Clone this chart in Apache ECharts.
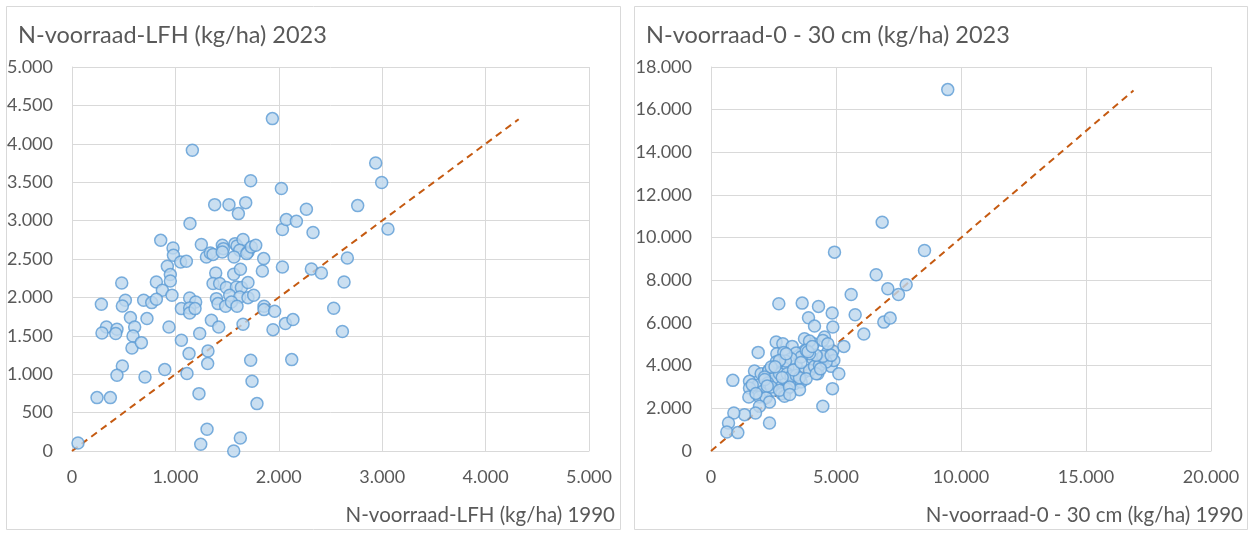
<!DOCTYPE html>
<html>
<head>
<meta charset="utf-8">
<script src="https://cdn.jsdelivr.net/npm/echarts@6/dist/echarts.min.js"></script>
<style>
html,body{margin:0;padding:0;background:#fff;}
#chart{width:1254px;height:533px;}
</style>
</head>
<body>
<div id="chart"></div>
<script>
// ---- Left panel: N-voorraad LFH (kg/ha), 1990 vs 2023 ----
const lfh1990 = [1938,1164,1728,2025,1380,1518,1680,1609,1141,858,977,981,1051,1106,922,951,951,816,481,874,967,516,284,487,693,771,816,1138,1196,1058,1138,1138,1190,565,725,333,435,290,423,606,590,580,671,938,1058,1235,1132,1315,1312,897,1112,487,435,706,1728,2125,1741,1251,1300,1338,1364,1454,1464,1454,1577,1596,1654,1622,1567,1702,1690,1735,1777,1854,1841,1390,1564,1629,1364,1428,1493,1590,1638,1702,1525,1622,1702,1757,1397,1412,1486,1542,1596,1348,1419,1654,1857,1857,1960,1944,2064,2137,2035,2035,2073,2170,2267,2331,2315,2412,2937,2995,2763,3056,2663,2631,2531,2615,58,242,371,1228,1306,1245,1564,1628,1789];
const lfh2023 = [4328,3915,3520,3417,3208,3208,3234,3091,2961,2743,2643,2548,2461,2470,2405,2297,2214,2201,2188,2092,2027,1962,1910,1888,1962,1932,1975,1992,1940,1854,1862,1797,1854,1737,1724,1615,1585,1537,1529,1615,1497,1341,1411,1615,1441,1529,1268,1302,1138,1060,1008,1107,986,964,1181,1190,908,2688,2526,2578,2560,2678,2635,2591,2700,2669,2753,2613,2526,2591,2570,2656,2678,2505,2344,2318,2301,2366,2180,2180,2128,2135,2128,2193,2027,2005,1997,2027,1984,1919,1884,1940,1884,1702,1615,1650,1884,1841,1819,1580,1659,1711,2396,2883,3013,2991,3147,2844,2370,2318,3750,3495,3195,2891,2513,2201,1858,1555,104,695,695,747,283,87,0,169,617];
const lfhDiagonal = [0, 4320];

// ---- Right panel: N-voorraad 0 - 30 cm (kg/ha), 1990 vs 2023 ----
const bodem1990 = [9470,6847,4940,8540,6607,7073,7807,7500,5607,5767,6913,7167,6113,5313,4847,4873,4300,3900,4140,3647,2713,4540,4100,4673,4407,4807,5113,4473,3740,3940,2607,2873,3247,1887,2633,2913,3713,3407,4873,4913,4420,4073,2607,3407,3073,3740,4273,1740,2007,2300,873,1540,1873,1540,2607,3007,3340,3607,3047,3540,2500,2073,2833,1513,1940,2207,2340,2940,1940,1780,1340,913,700,2340,633,1073,4860,4473,2313,2473,2740,3047,3207,3407,3540,3940,4140,4340,4607,4473,4207,3940,3607,3207,2980,2740,2407,2140,2273,2407,2740,3140,3807,4207,4673,4807,3807,3007,1650,2150,2560,3300,3880,4380,2850,3600,4050,2250,1800,3150];
const bodem2023 = [16940,10727,9322,9401,8262,7607,7794,7340,7340,6389,6042,6230,5480,4904,6464,5808,6778,6249,5855,6932,6904,5340,5030,4637,4169,3967,3625,5185,5265,5152,5106,5030,4904,4623,4562,4623,4670,4590,4684,4248,4201,4328,4169,4014,3906,3700,3625,3747,3625,3733,3311,3265,3077,2951,3232,3311,3157,3232,2890,2876,2843,2796,2689,2529,2529,2501,2295,2562,2094,1780,1705,1780,1312,1312,890,862,2923,2094,3780,3391,3625,3625,3499,3546,3438,3780,3967,4014,4169,4436,4483,4562,4403,4328,4216,4248,3935,3466,3185,2998,2843,2998,3391,3625,5030,4483,4717,4562,3100,3350,3950,3800,4650,3850,3450,4150,4900,3050,2700,2650];
const bodemDiagonal = [0, 16900];

const titles = ['N-voorraad-LFH (kg/ha) 2023', 'N-voorraad-0 - 30 cm (kg/ha) 2023'];
const xNames = ['N-voorraad-LFH (kg/ha) 1990', 'N-voorraad-0 - 30 cm (kg/ha) 1990'];

function pairs(xs, ys){ return xs.map((x,i)=>[x, ys[i]]); }
function fmt(v){ return String(v).replace(/\B(?=(\d{3})+(?!\d))/g, '.'); }

const FONT = 'Lato';
const TXT = '#595959';
const GRID = '#d9d9d9';

function xAx(idx, max, interval, gap){
  return {
    type:'value', gridIndex:idx, min:0, max:max, interval:interval,
    name:xNames[idx], nameLocation:'end', nameGap:gap,
    nameTextStyle:{color:TXT, fontFamily:FONT, fontSize:20.5, align:'right', verticalAlign:'top', padding:[54,0,0,0]},
    axisLine:{show:true, lineStyle:{color:GRID, width:1}},
    axisTick:{show:false},
    axisLabel:{color:TXT, fontFamily:FONT, fontSize:18, margin:17, formatter:fmt},
    splitLine:{show:true, lineStyle:{color:GRID, width:1}}
  };
}
function yAx(idx, max, interval){
  return {
    type:'value', gridIndex:idx, min:0, max:max, interval:interval,
    axisLine:{show:true, lineStyle:{color:GRID, width:1}},
    axisTick:{show:false},
    axisLabel:{color:TXT, fontFamily:FONT, fontSize:18, margin:19, formatter:fmt},
    splitLine:{show:true, lineStyle:{color:GRID, width:1}}
  };
}
const pointStyle = {color:'#bdd7ee', borderColor:'#5b9bd5', borderWidth:1.5};
const lineStyle = {color:'#c55a11', width:2, type:[7,5]};

const chart = echarts.init(document.getElementById('chart'), null, {renderer:'canvas'});
chart.setOption({
  animation:false,
  backgroundColor:'#ffffff',
  title:[
    {text:titles[0], left:13, top:18, textStyle:{color:TXT, fontFamily:FONT, fontSize:23.5, fontWeight:'normal'}},
    {text:titles[1], left:641, top:18, textStyle:{color:TXT, fontFamily:FONT, fontSize:23.5, fontWeight:'normal'}}
  ],
  graphic:[
    {type:'rect', shape:{x:6.5, y:6.5, width:614, height:523}, style:{fill:'none', stroke:GRID, lineWidth:1}, silent:true},
    {type:'rect', shape:{x:634.5, y:6.5, width:613, height:523}, style:{fill:'none', stroke:GRID, lineWidth:1}, silent:true}
  ],
  grid:[
    {left:72, top:67, width:517, height:384},
    {left:711, top:67, width:500, height:384}
  ],
  xAxis:[xAx(0, 5000, 1000, 26), xAx(1, 20000, 5000, 32)],
  yAxis:[yAx(0, 5000, 500), yAx(1, 18000, 2000)],
  series:[
    {type:'line', xAxisIndex:0, yAxisIndex:0, data:[[lfhDiagonal[0],lfhDiagonal[0]],[lfhDiagonal[1],lfhDiagonal[1]]], symbol:'none', lineStyle:lineStyle, z:1},
    {type:'scatter', xAxisIndex:0, yAxisIndex:0, data:pairs(lfh1990, lfh2023), symbol:'circle', symbolSize:12, itemStyle:pointStyle, z:2},
    {type:'line', xAxisIndex:1, yAxisIndex:1, data:[[bodemDiagonal[0],bodemDiagonal[0]],[bodemDiagonal[1],bodemDiagonal[1]]], symbol:'none', lineStyle:lineStyle, z:1},
    {type:'scatter', xAxisIndex:1, yAxisIndex:1, data:pairs(bodem1990, bodem2023), symbol:'circle', symbolSize:12, itemStyle:pointStyle, z:2}
  ]
});
</script>
</body>
</html>
